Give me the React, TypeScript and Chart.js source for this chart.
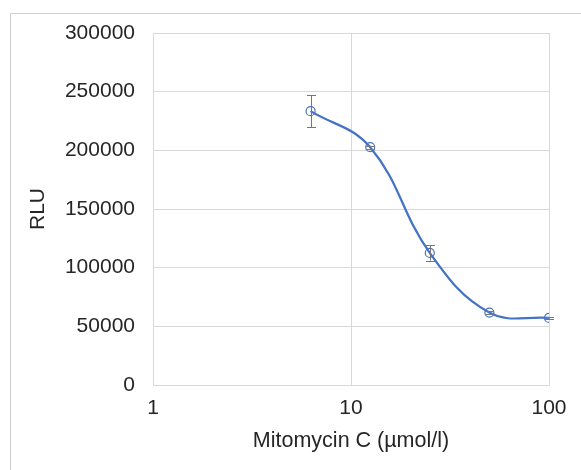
import React, { useEffect, useRef } from 'react';
import { Chart, registerables } from 'chart.js';

Chart.register(...registerables);

const concentrations = [6.25, 12.5, 25, 50, 100];
const rlu = [233400, 202700, 112600, 61700, 57200];
const rluError = [13500, 1200, 6600, 1200, 800];
const xTickValues = [1, 10, 100];
const xTitle = 'Mitomycin C (µmol/l)';
const yTitle = 'RLU';

const FONT = "'Liberation Sans', Arial, sans-serif";
const TEXT = '#262626';
const GRID = '#d9d9d9';
const LINE = '#4472c4';

const framePlugin = {
  id: 'frame',
  beforeDraw(chart: any) {
    const ctx = chart.ctx;
    ctx.save();
    ctx.fillStyle = '#ffffff';
    ctx.fillRect(0, 0, chart.width, chart.height);
    ctx.strokeStyle = '#d0d0d0';
    ctx.lineWidth = 1;
    ctx.strokeRect(10.5, 13.5, chart.width + 50, chart.height + 50);
    ctx.restore();
  },
};

const errorBarPlugin = {
  id: 'errorBars',
  afterDatasetsDraw(chart: any) {
    const ctx = chart.ctx;
    const xs = chart.scales.x;
    const ys = chart.scales.y;
    ctx.save();
    ctx.strokeStyle = '#767676';
    ctx.lineWidth = 1;
    concentrations.forEach((c, i) => {
      const px = Math.round(xs.getPixelForValue(c)) + 0.5;
      const top = ys.getPixelForValue(rlu[i] + rluError[i]);
      const bot = ys.getPixelForValue(rlu[i] - rluError[i]);
      const cap = 4.5;
      ctx.beginPath();
      ctx.moveTo(px, top);
      ctx.lineTo(px, bot);
      ctx.moveTo(px - cap, Math.round(top) + 0.5);
      ctx.lineTo(px + cap, Math.round(top) + 0.5);
      ctx.moveTo(px - cap, Math.round(bot) + 0.5);
      ctx.lineTo(px + cap, Math.round(bot) + 0.5);
      ctx.stroke();
    });
    ctx.restore();
  },
};

export default function App() {
  const ref = useRef<HTMLCanvasElement | null>(null);

  useEffect(() => {
    if (!ref.current) return;
    const chart = new Chart(ref.current, {
      type: 'scatter',
      data: {
        datasets: [
          {
            data: concentrations.map((c, i) => ({ x: c, y: rlu[i] })),
            showLine: true,
            borderColor: LINE,
            borderWidth: 2.25,
            tension: 0.4,
            pointStyle: 'circle',
            pointRadius: 4.5,
            pointBorderWidth: 1.2,
            pointBorderColor: LINE,
            pointBackgroundColor: 'rgba(0,0,0,0)',
          },
        ],
      },
      options: {
        animation: false,
        responsive: false,
        maintainAspectRatio: false,
        layout: { padding: { left: 22, top: 33, right: 32, bottom: 16 } },
        plugins: { legend: { display: false }, tooltip: { enabled: false } },
        scales: {
          x: {
            type: 'logarithmic',
            min: 1,
            max: 100,
            afterBuildTicks: (scale: any) => {
              scale.ticks = xTickValues.map((v) => ({ value: v }));
            },
            ticks: {
              font: { family: FONT, size: 21 },
              color: TEXT,
              padding: 11,
              autoSkip: false,
              maxRotation: 0,
              callback: (v: any) => String(v),
            },
            grid: { color: GRID, lineWidth: 1, drawTicks: false },
            border: { display: true, color: GRID, width: 1 },
            title: {
              display: true,
              text: xTitle,
              font: { family: FONT, size: 21.5 },
              color: TEXT,
              padding: { top: -4, bottom: 0 },
            },
          },
          y: {
            min: 0,
            max: 300000,
            afterFit: (scale: any) => {
              scale.width = 131;
            },
            ticks: {
              stepSize: 50000,
              font: { family: FONT, size: 21 },
              color: TEXT,
              padding: 18,
              callback: (v: any) => String(v),
            },
            grid: { color: GRID, lineWidth: 1, drawTicks: false },
            border: { display: true, color: GRID, width: 1 },
            title: {
              display: true,
              text: yTitle,
              font: { family: FONT, size: 21 },
              color: TEXT,
              padding: 4,
            },
          },
        },
      },
      plugins: [framePlugin, errorBarPlugin],
    });
    return () => chart.destroy();
  }, []);

  return (
    <div style={{ position: 'fixed', left: 0, top: 0, width: 581, height: 470, overflow: 'hidden' }}>
      <canvas ref={ref} width={581} height={470} style={{ display: 'block', width: 581, height: 470 }} />
    </div>
  );
}
